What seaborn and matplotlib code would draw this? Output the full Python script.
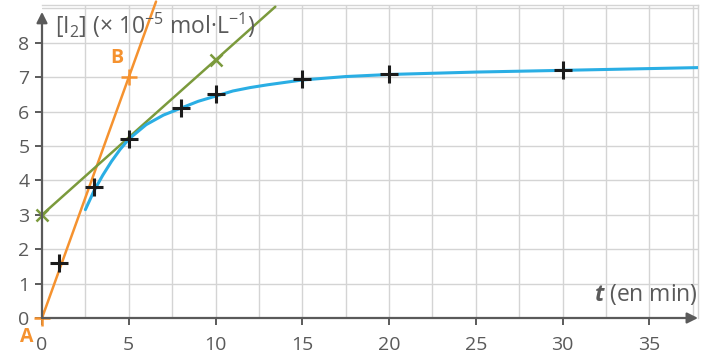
import matplotlib
matplotlib.use("Agg")
import matplotlib.pyplot as plt
import seaborn as sns
import pandas as pd
import numpy as np

# measured points
t_meas = [1, 3, 5, 8, 10, 15, 20, 30]
c_meas = [1.6, 3.8, 5.2, 6.1, 6.5, 6.95, 7.1, 7.2]

# smooth curve
t_curve = [2.5, 3, 3.5, 4, 4.5, 5, 6, 7, 8, 9, 10, 11, 12, 13, 15, 17.5, 20, 25, 30, 37.8]
c_curve = [3.15, 3.7, 4.15, 4.55, 4.9, 5.2, 5.62, 5.9, 6.1, 6.3, 6.45, 6.6, 6.7, 6.78, 6.92, 7.02, 7.08, 7.15, 7.2, 7.28]

# tangent at origin through A and B
tanA_t = [0, 5]
tanA_c = [0, 7]
# tangent at t=5 through two points
tanG_t = [0, 10]
tanG_c = [3, 7.5]

x_ticks = [0, 5, 10, 15, 20, 25, 30, 35]
y_ticks = [0, 1, 2, 3, 4, 5, 6, 7, 8]

sns.set_theme(style="white")
plt.rcParams["font.family"] = ["Open Sans", "DejaVu Sans"]
plt.rcParams["mathtext.fontset"] = "custom"
plt.rcParams["mathtext.rm"] = "Open Sans"
plt.rcParams["mathtext.it"] = "Open Sans:italic:bold"

GRAY = "#5a5a5a"
ORANGE = "#f5922f"
GREEN = "#7b9a3c"
BLUE = "#2aaee4"

fig = plt.figure(figsize=(7.08, 3.58), dpi=100)
ax = fig.add_axes([42 / 708, 40 / 358, 656 / 708, 313 / 358])
ax.set_xlim(0, 37.8)
ax.set_ylim(0, 9.1)

# grid
for v in np.arange(2.5, 37.6, 2.5):
    ax.axvline(v, color="#d4d4d4", lw=1.0, zorder=0)
for v in range(1, 10):
    ax.axhline(v, color="#d4d4d4", lw=1.0, zorder=0)

for s in ["top", "right"]:
    ax.spines[s].set_color("#d4d4d4")
    ax.spines[s].set_linewidth(1.0)
for s in ["left", "bottom"]:
    ax.spines[s].set_visible(False)

# tangents
sA = (tanA_c[1] - tanA_c[0]) / (tanA_t[1] - tanA_t[0])
tA_end = 9.2 / sA
ax.plot([tanA_t[0], tA_end], [tanA_c[0], tanA_c[0] + sA * tA_end], color=ORANGE, lw=1.8, clip_on=False, zorder=3)
sG = (tanG_c[1] - tanG_c[0]) / (tanG_t[1] - tanG_t[0])
tG_end = (9.05 - tanG_c[0]) / sG
ax.plot([tanG_t[0], tG_end], [tanG_c[0], tanG_c[0] + sG * tG_end], color=GREEN, lw=1.8, clip_on=False, zorder=3)

# curve
sns.lineplot(data=pd.DataFrame({"t": t_curve, "c": c_curve}), x="t", y="c", ax=ax,
             color=BLUE, lw=2.2, zorder=4, sort=True)

# markers on tangents
ax.plot(tanA_t, tanA_c, ls="none", marker="+", ms=12, mew=1.8, color=ORANGE, zorder=5, clip_on=False)
ax.plot(tanG_t, tanG_c, ls="none", marker="x", ms=8, mew=1.8, color=GREEN, zorder=5, clip_on=False)

# measured points
sns.scatterplot(data=pd.DataFrame({"t": t_meas, "c": c_meas}), x="t", y="c", ax=ax,
                marker="+", s=180, linewidth=2.2, color="#1b1b1b", zorder=6)

# axes with arrows
ax.annotate("", xy=(0, 8.9), xytext=(0, 0), xycoords="data",
            arrowprops=dict(arrowstyle="-|>", color=GRAY, lw=1.6, mutation_scale=16,
                            shrinkA=0, shrinkB=0), annotation_clip=False, zorder=7)
ax.annotate("", xy=(37.8, 0), xytext=(0, 0), xycoords="data",
            arrowprops=dict(arrowstyle="-|>", color=GRAY, lw=1.6, mutation_scale=16,
                            shrinkA=0, shrinkB=0), annotation_clip=False, zorder=7)

ax.set_xticks(x_ticks)
ax.set_yticks(y_ticks)
ax.set_xticklabels([str(v) for v in x_ticks])
ax.set_yticklabels([str(v) for v in y_ticks])
ax.tick_params(axis="both", direction="out", length=5, width=1.4, color=GRAY,
               labelcolor=GRAY, labelsize=14)
ax.tick_params(axis="x", bottom=True, pad=8)
ax.tick_params(axis="y", left=True, pad=4)
ax.set_xlabel("")
ax.set_ylabel("")

ax.text(0.75, 8.52, r"[I$_2$] (× 10$^{-5}$ mol·L$^{-1}$)", color=GRAY, fontsize=16.5,
        ha="left", va="center", zorder=8)
ax.text(37.8, 0.68, r"$t$ (en min)", color=GRAY, fontsize=16.5, ha="right", va="center")
ax.text(4.3, 7.55, "B", color=ORANGE, fontsize=14, ha="center", va="center", fontweight="bold")
ax.text(-0.85, -0.55, "A", color=ORANGE, fontsize=14, ha="center", va="center",
        fontweight="bold", clip_on=False)

fig.savefig("out.png", dpi=100)
